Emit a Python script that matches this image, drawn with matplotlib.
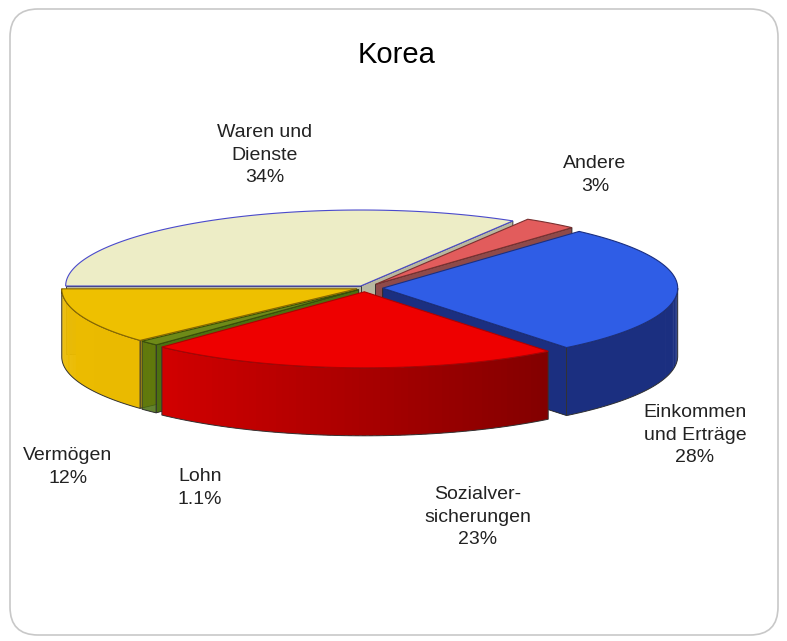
import numpy as np
import matplotlib.pyplot as plt
from matplotlib.patches import Polygon, FancyBboxPatch
from matplotlib.colors import to_rgb

# Daten
labels = ['Waren und\nDienste', 'Andere', 'Einkommen\nund Erträge',
          'Sozialver-\nsicherungen', 'Lohn', 'Vermögen']
shares = [34, 3, 28, 23, 1.1, 12]
pct_text = ['34%', '3%', '28%', '23%', '1.1%', '12%']
explode = [0.03, 0.06, 0.06, 0.05, 0.03, 0.03]

top_colors = ['#EDEDC6', '#E25C5C', '#2F5DE6', '#EE0000', '#6E8A18', '#EEC000']
side_left = ['#B8B8A0', '#8E4A4A', '#1B2F80', '#E40000', '#4C7010', '#EBBB00']
side_right = ['#B8B8A0', '#8E4A4A', '#1B2F80', '#6C0000', '#4C7010', '#E2B200']
top_edges = ['#4A4ACC', '#7A3030', '#1B2F80', '#B00000', '#3A5008', '#8A6A00']

label_xy = [(265, 155), (595, 175), (695, 435), (478, 517), (200, 488), (68, 467)]

# Geometrie (Pixel)
cx, cy, rx, ry, depth = 365, 288, 295, 76, 68

fig = plt.figure(figsize=(7.87, 6.41), dpi=100)
ax = fig.add_axes([0, 0, 1, 1])
ax.set_xlim(0, 787)
ax.set_ylim(641, 0)
ax.axis('off')

ax.add_patch(FancyBboxPatch((10, 9), 768, 626, boxstyle='round,pad=0,rounding_size=28',
                            fc='white', ec='#C8C8C8', lw=1.2))

total = sum(shares)
fr = np.array(shares) / total
his = 180 - 360 * np.concatenate([[0], np.cumsum(fr)[:-1]])
los = his - 360 * fr


def pt(th, dx, dy, r=1.0, z=0.0):
    t = np.radians(th)
    return cx + dx + r * rx * np.cos(t), cy + dy - r * ry * np.sin(t) + z


faces = []  # (key, [(poly, color, edge, lw)])
tops = []
for i in range(len(shares)):
    hi, lo = his[i], los[i]
    mid = np.radians((hi + lo) / 2)
    dx = explode[i] * rx * np.cos(mid)
    dy = -explode[i] * ry * np.sin(mid)
    ey = explode[i] * np.sin(mid)
    ang = np.linspace(hi, lo, 120)
    ax_, ay_ = pt(ang, dx, dy)
    apex = pt(0, dx, dy, r=0)
    tops.append((np.column_stack([np.r_[apex[0], ax_], np.r_[apex[1], ay_]]), i))

    # radiale Seitenflächen
    for th, vis in [(hi, np.cos(np.radians(hi)) < 0), (lo, np.cos(np.radians(lo)) > 0)]:
        if not vis:
            continue
        o = pt(th, dx, dy)
        ob = pt(th, dx, dy, z=depth)
        ab = pt(0, dx, dy, r=0, z=depth)
        poly = [apex, o, ob, ab]
        key = ey + 0.5 * np.sin(np.radians(th))
        faces.append((key, [(poly, side_left[i], '#222222', 0.6)]))

    # gekrümmte Seite (vorne) mit Farbverlauf
    a, b = max(lo, -180), min(hi, 0)
    if a < b:
        n = 60
        ang = np.linspace(b, a, n + 1)
        step = (b - a) / n
        segs = []
        for k in range(n):
            end = max(ang[k + 1] - 0.6 * step, a)
            s = np.linspace(ang[k], end, 5)
            tx, ty = pt(s, dx, dy)
            bx, by = pt(s, dx, dy, z=depth)
            poly = np.column_stack([np.r_[tx, bx[::-1]], np.r_[ty, by[::-1]]])
            xm = np.cos(np.radians((ang[k] + ang[k + 1]) / 2))
            t = (xm + 1) / 2
            c = (1 - t) * np.array(to_rgb(side_left[i])) + t * np.array(to_rgb(side_right[i]))
            segs.append((poly, c, 'none', 0))
        key = ey + np.mean(np.sin(np.radians(np.linspace(a, b, 50))))
        tx, ty = pt(np.linspace(b, a, 100), dx, dy)
        bx, by = pt(np.linspace(b, a, 100), dx, dy, z=depth)
        outline = np.column_stack([np.r_[tx, bx[::-1]], np.r_[ty, by[::-1]]])
        segs.append((outline, 'none', '#333333', 0.7))
        faces.append((key, segs))

faces.sort(key=lambda f: -f[0])
for key, segs in faces:
    for poly, c, e, lw in segs:
        ax.add_patch(Polygon(poly, closed=True, fc=c, ec=e, lw=lw))

for poly, i in tops:
    ax.add_patch(Polygon(poly, closed=True, fc=top_colors[i], ec=top_edges[i], lw=0.8))

font = ['Liberation Sans', 'DejaVu Sans']
for i in range(len(shares)):
    ax.text(label_xy[i][0], label_xy[i][1], labels[i] + '\n' + pct_text[i],
            ha='center', va='center', fontsize=14, color='#222222',
            family=font, linespacing=1.4)

ax.text(397, 55, 'Korea', ha='center', va='center', fontsize=21, color='black', family=font)

fig.savefig('out.png', dpi=100)
